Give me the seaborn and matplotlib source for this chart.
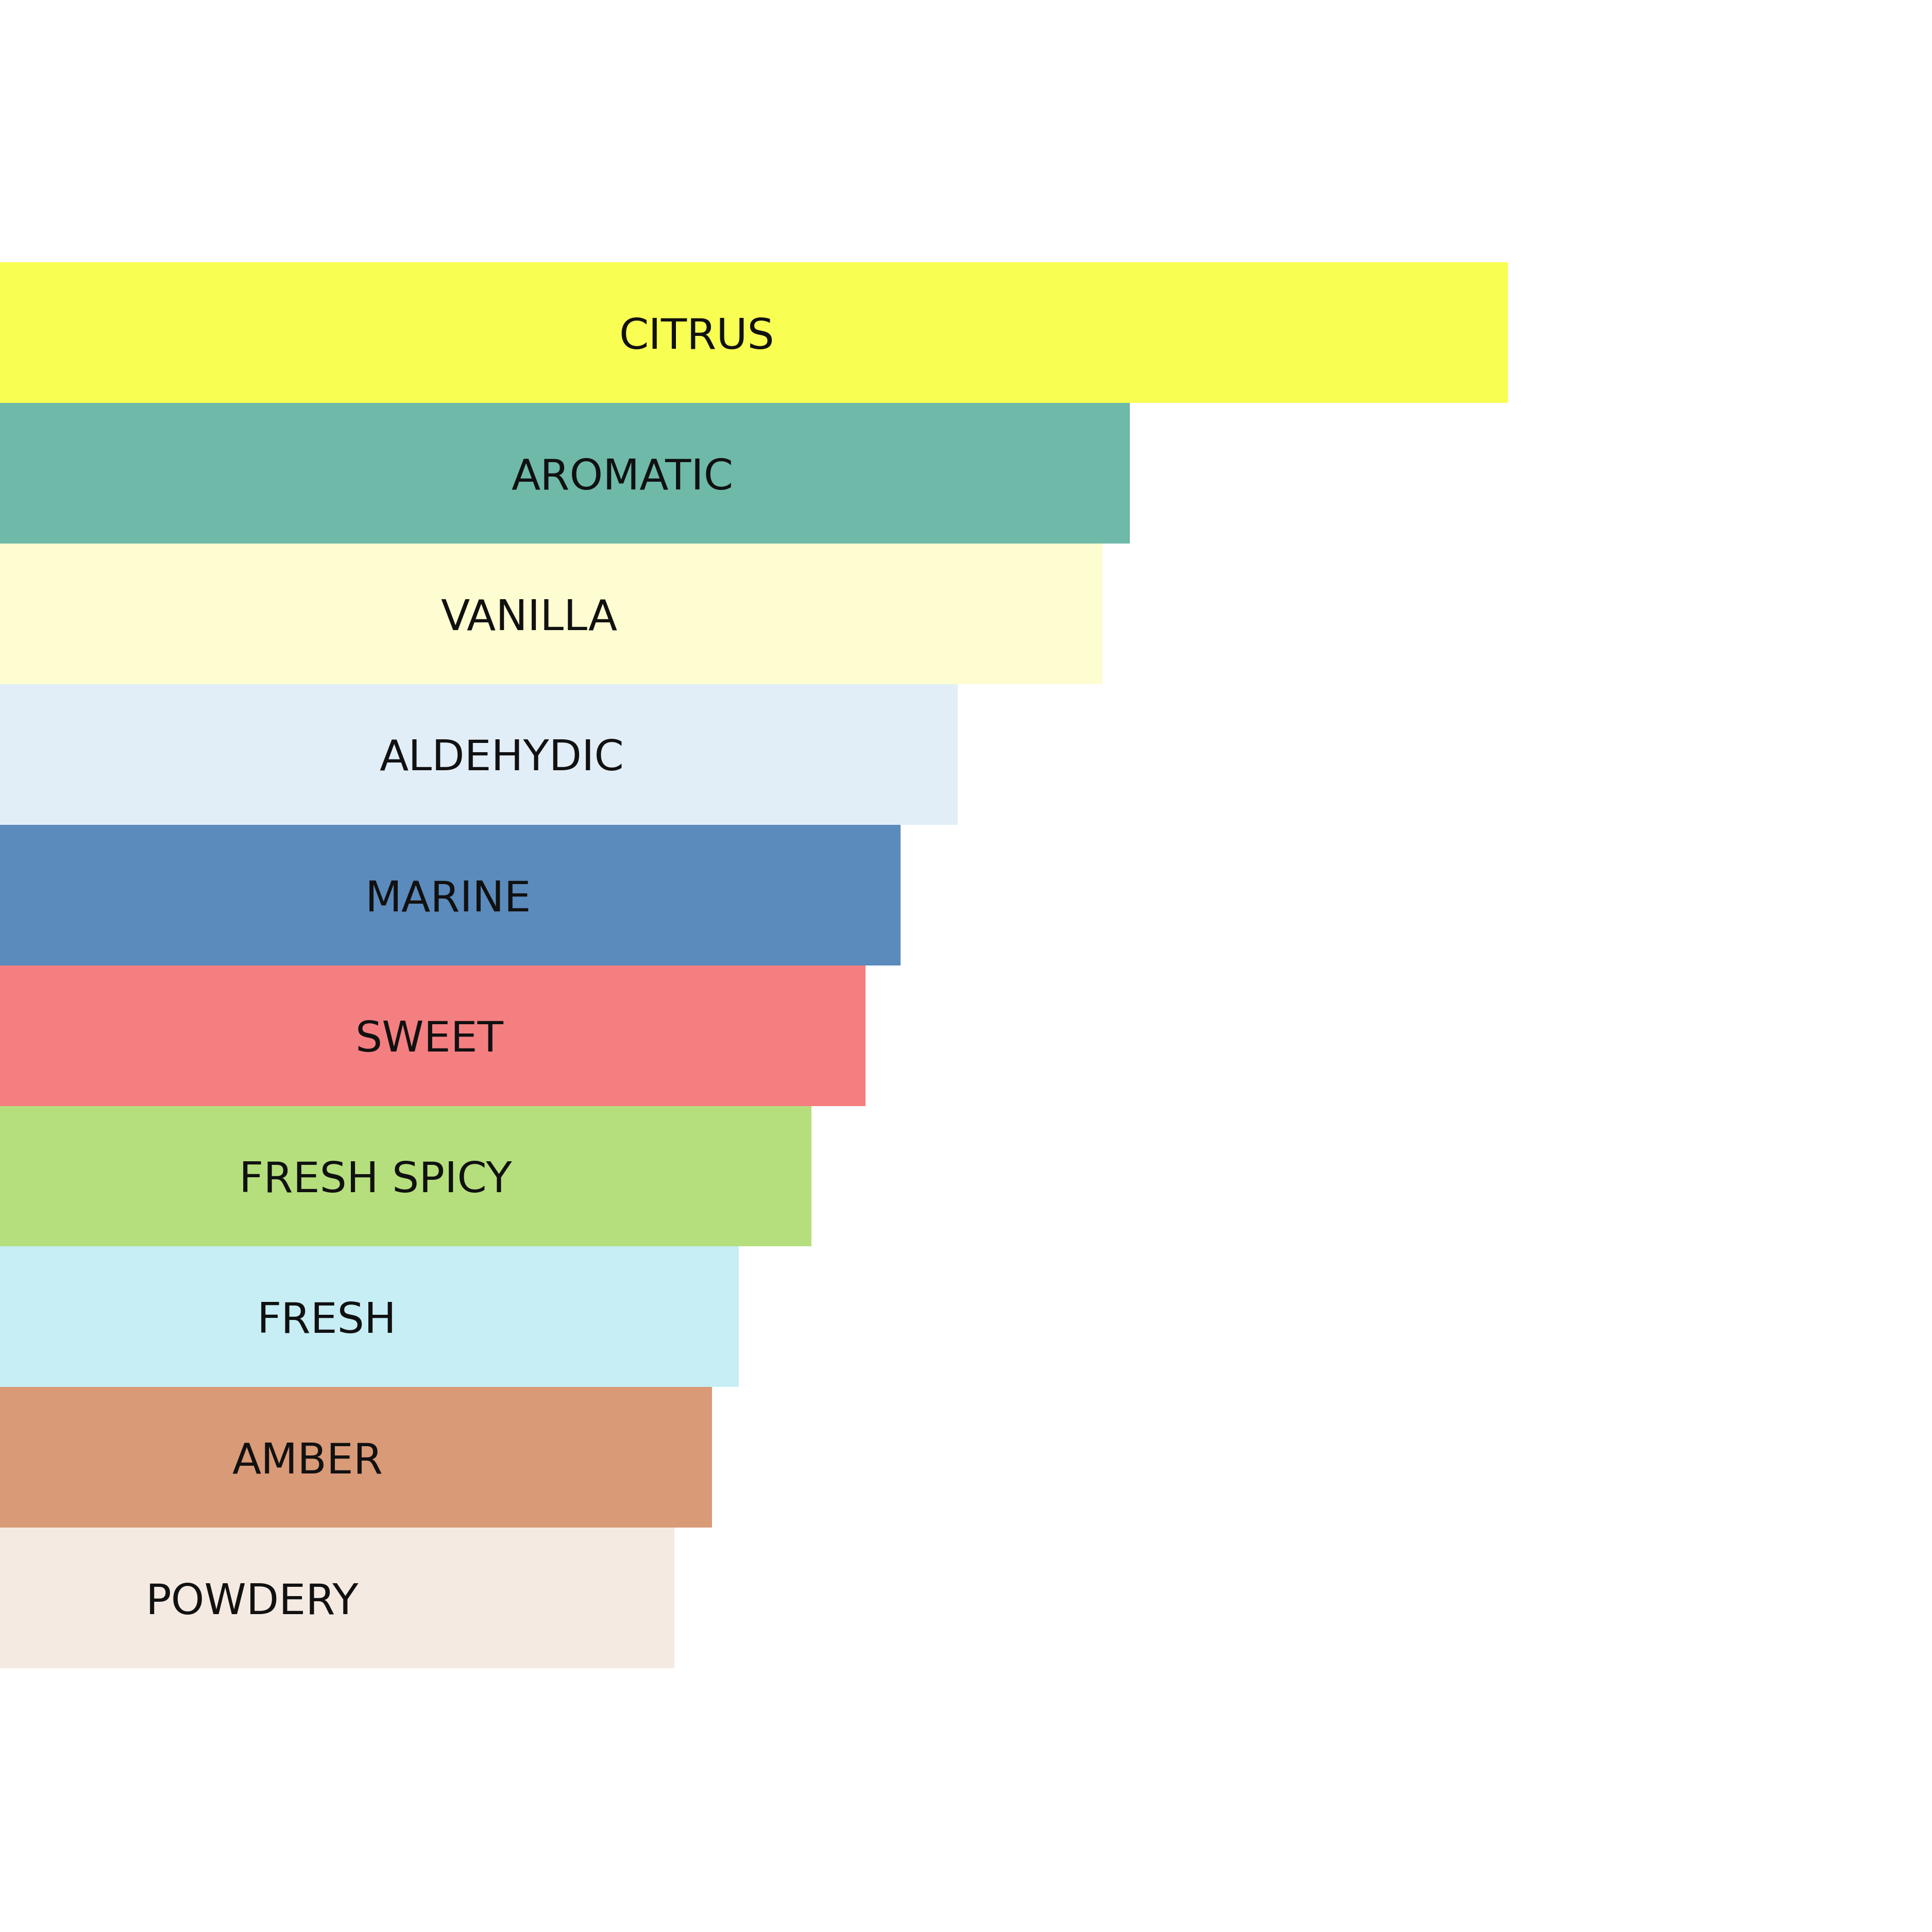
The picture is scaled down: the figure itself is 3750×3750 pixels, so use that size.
import matplotlib
matplotlib.use("Agg")
import matplotlib.pyplot as plt
import seaborn as sns
import pandas as pd

categories = ["CITRUS", "AROMATIC", "VANILLA", "ALDEHYDIC", "MARINE",
              "SWEET", "FRESH SPICY", "FRESH", "AMBER", "POWDERY"]
values = [100.0, 74.9, 73.1, 63.5, 59.7, 57.4, 53.8, 49.0, 47.2, 44.7]
colors = ["#F8FF52", "#6FB9A9", "#FEFCD1", "#E2EEF7", "#5B8ABC",
          "#F47F81", "#B5DF7D", "#C6EEF4", "#D99A78", "#F4EAE2"]
# horizontal position of each label, as a fraction of its bar length
label_frac = [0.462, 0.551, 0.480, 0.524, 0.498, 0.496, 0.463, 0.442, 0.432, 0.374]

df = pd.DataFrame({"family": categories, "value": values})

sns.set_theme(style="white")
plt.rcParams["font.family"] = ["DejaVu Sans"]

fig = plt.figure(figsize=(10, 10), dpi=375)
ax = fig.add_axes([0.0, 0.1365, 1.0, 0.7277])

sns.barplot(data=df, x="value", y="family", hue="family", palette=colors,
            order=categories, hue_order=categories, width=1.0, legend=False,
            orient="h", ax=ax, saturation=1.0, linewidth=0)

for i, (cat, v, f) in enumerate(zip(categories, values, label_frac)):
    ax.text(v * f, i, cat, ha="center", va="center_baseline",
            fontsize=15.8, color="#111111")

ax.set_xlim(0, 100 * 1568 / 1224)
ax.set_ylim(9.5, -0.5)
ax.set_xlabel("")
ax.set_ylabel("")
ax.set_xticks([])
ax.set_yticks([])
for s in ax.spines.values():
    s.set_visible(False)

fig.savefig("out.png", dpi=375, facecolor="white")
